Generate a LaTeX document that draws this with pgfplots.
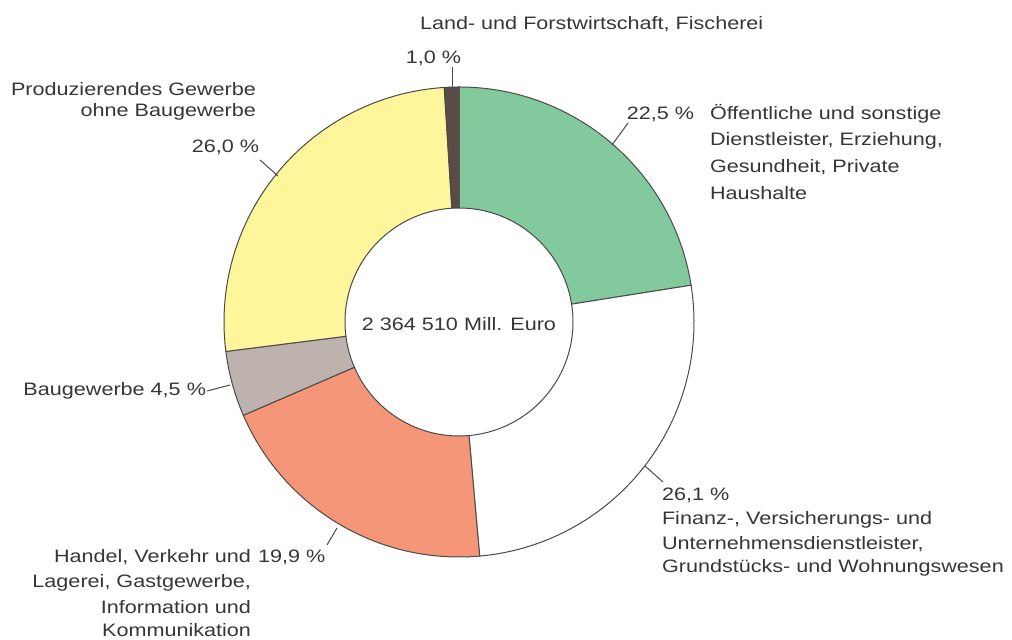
\documentclass[border=0pt]{standalone}
\usepackage{fontspec}
\setmainfont{Liberation Sans}[FakeStretch=1.2]
\usepackage{pgfplots}
\pgfplotsset{compat=1.18}

\definecolor{cOeff}{HTML}{82C99D}
\definecolor{cFin}{HTML}{FFFFFF}
\definecolor{cHan}{HTML}{F49677}
\definecolor{cBau}{HTML}{BDB2AE}
\definecolor{cPro}{HTML}{FFF59B}
\definecolor{cLand}{HTML}{5B4B47}
\definecolor{edge}{HTML}{4A4A4A}
\definecolor{txt}{HTML}{363636}

\tikzset{lbl/.style={font=\fontsize{9}{11}\selectfont, text=txt, inner sep=0pt, outer sep=0pt}}

% donut slice: start angle, end angle, colour (centre 459/318, radii in pt)
\newcommand\slice[3]{%
  \fill[#3, draw=edge, line width=0.5pt]
    (axis cs:459,318) ++(#1:117.5pt) arc[start angle=#1, end angle=#2, radius=117.5pt]
    -- ++(#2:-60.5pt) arc[start angle=#2, end angle=#1, radius=57pt] -- cycle;}

\begin{document}
\begin{tikzpicture}
% shares in percent, clockwise from 12 o'clock
\pgfmathsetmacro\aA{90}
\pgfmathsetmacro\aB{\aA-3.6*22.5}% Oeffentliche Dienstleister
\pgfmathsetmacro\aC{\aB-3.6*26.1}% Finanz
\pgfmathsetmacro\aD{\aC-3.6*19.9}% Handel
\pgfmathsetmacro\aE{\aD-3.6*4.5}% Baugewerbe
\pgfmathsetmacro\aF{\aE-3.6*26.0}% Produzierendes Gewerbe
\pgfmathsetmacro\aG{\aF-3.6*1.0}% Land- und Forstwirtschaft
\begin{axis}[
    x=0.5pt, y=0.5pt,
    xmin=0, xmax=1012, ymin=0, ymax=640,
    hide axis, clip=false
]
\path (axis cs:0,0) rectangle (axis cs:1012,640);
\slice{\aA}{\aB}{cOeff}
\slice{\aB}{\aC}{cFin}
\slice{\aC}{\aD}{cHan}
\slice{\aD}{\aE}{cBau}
\slice{\aE}{\aF}{cPro}
\slice{\aF}{\aG}{cLand}

\node[lbl] at (axis cs:459,316) {2 364 510 Mill. Euro};

% leader lines
\draw[edge, line width=0.5pt] (axis cs:452,573) -- (axis cs:452,553);
\draw[edge, line width=0.5pt] (axis cs:628,517) -- (axis cs:612,495);
\draw[edge, line width=0.5pt] (axis cs:260,480) -- (axis cs:278,464);
\draw[edge, line width=0.5pt] (axis cs:207,249) -- (axis cs:230,255);
\draw[edge, line width=0.5pt] (axis cs:327,95) -- (axis cs:337,112);
\draw[edge, line width=0.5pt] (axis cs:663,158) -- (axis cs:645,174);

% labels
\node[lbl, anchor=west] at (axis cs:420,616) {Land- und Forstwirtschaft, Fischerei};
\node[lbl, anchor=east] at (axis cs:461,582) {1,0 \%};

\node[lbl, anchor=east] at (axis cs:694,526) {22,5 \%};
\node[lbl, anchor=west] at (axis cs:710,526) {Öffentliche und sonstige};
\node[lbl, anchor=west] at (axis cs:710,499) {Dienstleister, Erziehung,};
\node[lbl, anchor=west] at (axis cs:710,473) {Gesundheit, Private};
\node[lbl, anchor=west] at (axis cs:710,447) {Haushalte};

\node[lbl, anchor=east] at (axis cs:256,551) {Produzierendes Gewerbe};
\node[lbl, anchor=east] at (axis cs:256,528) {ohne Baugewerbe};
\node[lbl, anchor=east] at (axis cs:259,493) {26,0 \%};

\node[lbl, anchor=east] at (axis cs:206,249) {Baugewerbe 4,5 \%};

\node[lbl, anchor=east] at (axis cs:251,83) {Handel, Verkehr und};
\node[lbl, anchor=west] at (axis cs:258,83) {19,9 \%};
\node[lbl, anchor=east] at (axis cs:251,57) {Lagerei, Gastgewerbe,};
\node[lbl, anchor=east] at (axis cs:251,33) {Information und};
\node[lbl, anchor=east] at (axis cs:251,10) {Kommunikation};

\node[lbl, anchor=west] at (axis cs:662,145) {26,1 \%};
\node[lbl, anchor=west] at (axis cs:662,120) {Finanz-, Versicherungs- und};
\node[lbl, anchor=west] at (axis cs:662,96) {Unternehmensdienstleister,};
\node[lbl, anchor=west] at (axis cs:662,72) {Grundstücks- und Wohnungswesen};
\end{axis}
\end{tikzpicture}
\end{document}
